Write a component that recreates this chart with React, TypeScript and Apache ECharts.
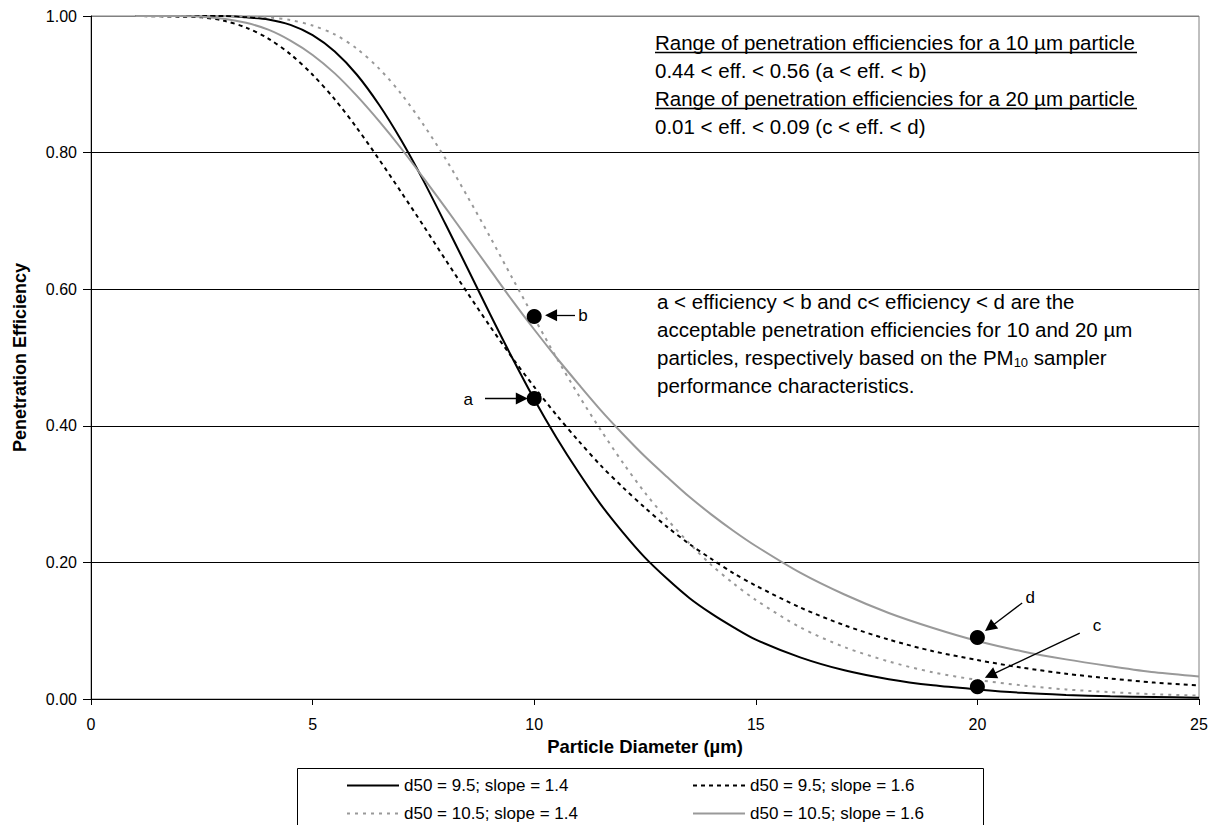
import React, { useEffect, useRef } from "react";
import * as echarts from "echarts";

// Particle diameters (µm) at which the curves were read
const diameters = [1, 2, 2.5, 3, 3.5, 4, 4.5, 5, 5.5, 6, 6.5, 7, 7.5, 8, 8.5, 9, 9.5, 10, 10.5, 11, 11.5, 12, 12.5, 13, 13.5, 14, 14.5, 15, 16, 17, 18, 19, 20, 21, 22, 23, 24, 25];

const effD95S14 = [1.0, 1.0, 1.0, 1.0, 0.998, 0.995, 0.987, 0.972, 0.948, 0.914, 0.87, 0.818, 0.759, 0.695, 0.63, 0.564, 0.5, 0.439, 0.383, 0.332, 0.285, 0.244, 0.207, 0.176, 0.148, 0.125, 0.105, 0.087, 0.061, 0.042, 0.029, 0.02, 0.014, 0.009, 0.006, 0.004, 0.003, 0.002];
const effD95S16 = [1.0, 0.999, 0.998, 0.993, 0.983, 0.967, 0.944, 0.914, 0.878, 0.836, 0.79, 0.742, 0.693, 0.643, 0.594, 0.546, 0.5, 0.457, 0.416, 0.378, 0.342, 0.31, 0.28, 0.252, 0.227, 0.205, 0.184, 0.166, 0.134, 0.108, 0.087, 0.07, 0.057, 0.046, 0.037, 0.03, 0.024, 0.02];
const effD105S14 = [1.0, 1.0, 1.0, 1.0, 0.999, 0.998, 0.994, 0.986, 0.973, 0.952, 0.923, 0.886, 0.841, 0.791, 0.735, 0.677, 0.617, 0.558, 0.5, 0.445, 0.394, 0.346, 0.302, 0.263, 0.228, 0.196, 0.169, 0.145, 0.105, 0.076, 0.055, 0.039, 0.028, 0.02, 0.014, 0.01, 0.007, 0.005];
const effD105S16 = [1.0, 1.0, 0.999, 0.996, 0.99, 0.98, 0.964, 0.943, 0.916, 0.883, 0.846, 0.806, 0.763, 0.719, 0.674, 0.629, 0.584, 0.541, 0.5, 0.461, 0.423, 0.388, 0.355, 0.325, 0.296, 0.27, 0.246, 0.224, 0.185, 0.153, 0.126, 0.104, 0.085, 0.07, 0.058, 0.048, 0.039, 0.033];

const seriesNames = [
  "d50 = 9.5; slope = 1.4",
  "d50 = 9.5; slope = 1.6",
  "d50 = 10.5; slope = 1.4",
  "d50 = 10.5; slope = 1.6",
];

// Marked points a, b, c, d
const pointLabels = ["a", "b", "c", "d"];
const pointX = [10, 10, 20, 20];
const pointY = [0.44, 0.56, 0.018, 0.09];

// Arrow annotations (data coordinates) and their letter positions
const arrowStart = [[8.89, 0.44], [10.92, 0.562], [22.31, 0.0964], [21.01, 0.1406]];
const arrowEnd = [[9.72, 0.44], [10.38, 0.562], [20.29, 0.0347], [20.28, 0.1048]];
const letterPos = [[8.51, 0.439], [11.1, 0.562], [22.7, 0.107], [21.19, 0.148]];

const xTicks = [0, 5, 10, 15, 20, 25];

const FONT = "'Liberation Sans', Arial, Helvetica, sans-serif";

function pairs(ys: number[]) {
  return diameters.map((x, i) => [x, ys[i]]);
}

export default function App() {
  const ref = useRef<HTMLDivElement>(null);

  useEffect(() => {
    if (!ref.current) return;
    const chart = echarts.init(ref.current, undefined, { renderer: "svg" });

    const lineBase = {
      type: "line" as const,
      symbol: "none",
      showSymbol: false,
      smooth: 0.3,
      z: 3,
    };

    const legendBase = {
      orient: "vertical",
      top: 777,
      padding: 0,
      itemWidth: 52,
      itemHeight: 14,
      itemGap: 11,
      itemStyle: { opacity: 0 },
      textStyle: { fontSize: 17, color: "#000", lineHeight: 16, fontFamily: FONT },
    };

    const option: any = {
      animation: false,
      backgroundColor: "#ffffff",
      textStyle: { fontFamily: FONT },
      grid: {
        left: 91,
        top: 16,
        right: 14,
        bottom: 126,
        show: true,
        borderColor: "#808080",
        borderWidth: 1,
        containLabel: false,
      },
      xAxis: {
        type: "value",
        min: xTicks[0],
        max: xTicks[xTicks.length - 1],
        interval: 5,
        name: "Particle Diameter (µm)",
        nameLocation: "middle",
        nameGap: 38,
        nameTextStyle: { fontSize: 18.5, fontWeight: "bold", color: "#000", fontFamily: FONT },
        axisLine: { show: true, lineStyle: { color: "#000", width: 1 } },
        axisTick: { show: true, inside: false, length: 6, lineStyle: { color: "#000" } },
        axisLabel: { fontSize: 16, color: "#000", margin: 17, fontFamily: FONT },
        splitLine: { show: false },
      },
      yAxis: {
        type: "value",
        min: 0,
        max: 1,
        interval: 0.2,
        name: "Penetration Efficiency",
        nameLocation: "middle",
        nameGap: 62,
        nameTextStyle: { fontSize: 18, fontWeight: "bold", color: "#000", fontFamily: FONT },
        axisLine: { show: true, lineStyle: { color: "#000", width: 1 } },
        axisTick: { show: true, inside: false, length: 8, lineStyle: { color: "#000" } },
        axisLabel: {
          fontSize: 16,
          color: "#000",
          margin: 14,
          fontFamily: FONT,
          formatter: (v: number) => v.toFixed(2),
        },
        splitLine: {
          show: true,
          lineStyle: { color: ["#000", "#000", "#000", "#000", "#000", "#808080"], width: 1 },
        },
      },
      legend: [
        { ...legendBase, data: [seriesNames[0], seriesNames[2]], left: 346 },
        { ...legendBase, data: [seriesNames[1], seriesNames[3]], left: 692 },
      ],
      series: [
        {
          ...lineBase,
          name: seriesNames[0],
          data: pairs(effD95S14),
          itemStyle: { color: "#000" },
          lineStyle: { color: "#000", width: 2, type: "solid" },
        },
        {
          ...lineBase,
          name: seriesNames[1],
          data: pairs(effD95S16),
          itemStyle: { color: "#000" },
          lineStyle: { color: "#000", width: 2, type: [4, 4] },
        },
        {
          ...lineBase,
          name: seriesNames[2],
          data: pairs(effD105S14),
          itemStyle: { color: "#999" },
          lineStyle: { color: "#999", width: 2, type: [3, 5] },
        },
        {
          ...lineBase,
          name: seriesNames[3],
          data: pairs(effD105S16),
          itemStyle: { color: "#999" },
          lineStyle: { color: "#999", width: 2, type: "solid" },
        },
        {
          type: "scatter",
          name: "points",
          symbol: "circle",
          symbolSize: 15,
          z: 6,
          itemStyle: { color: "#000", opacity: 1 },
          data: pointX.map((x, i) => [x, pointY[i]]),
          markLine: {
            silent: true,
            symbol: ["none", "triangle"],
            symbolSize: 12,
            label: { show: false },
            lineStyle: { color: "#000", width: 1.3, type: "solid", opacity: 1 },
            itemStyle: { color: "#000" },
            data: arrowStart.map((s, i) => [
              { coord: s },
              { coord: arrowEnd[i] },
            ]),
          },
        },
        {
          type: "scatter",
          name: "letters",
          symbolSize: 0,
          z: 6,
          silent: true,
          itemStyle: { opacity: 1, color: "#000" },
          data: letterPos.map((p, i) => [p[0], p[1], pointLabels[i]]),
          label: {
            show: true,
            position: "inside",
            color: "#000",
            fontSize: 17,
            fontFamily: FONT,
            formatter: (p: any) => p.value[2],
          },
        },
      ],
      graphic: [
        {
          type: "rect",
          shape: { x: 297.5, y: 768.5, width: 686, height: 80 },
          style: { fill: "none", stroke: "#000", lineWidth: 1 },
          silent: true,
        },
        ...[
          "Range of penetration efficiencies for a 10 µm particle",
          "0.44 < eff. < 0.56 (a < eff. < b)",
          "Range of penetration efficiencies for a 20 µm particle",
          "0.01 < eff. < 0.09 (c < eff. < d)",
        ].map((t, i) => ({
          type: "text",
          x: 655,
          y: 42 + i * 28,
          silent: true,
          style: {
            text: t,
            fill: "#000",
            fontSize: 20.5,
            fontFamily: FONT,
            verticalAlign: "middle",
            align: "left",
          },
        })),
        {
          type: "line",
          shape: { x1: 655, y1: 52.5, x2: 1137, y2: 52.5 },
          style: { stroke: "#000", lineWidth: 1.3 },
          silent: true,
        },
        {
          type: "line",
          shape: { x1: 655, y1: 108.5, x2: 1137, y2: 108.5 },
          style: { stroke: "#000", lineWidth: 1.3 },
          silent: true,
        },
        ...[
          "a < efficiency < b and c< efficiency < d are the",
          "acceptable penetration efficiencies for 10 and 20 µm",
          "particles, respectively based on the PM{sub|10} sampler",
          "performance characteristics.",
        ].map((t, i) => ({
          type: "text",
          x: 657,
          y: 301 + i * 28,
          silent: true,
          style: {
            text: t,
            fill: "#000",
            fontSize: 20.5,
            fontFamily: FONT,
            verticalAlign: "middle",
            align: "left",
            rich: {
              sub: {
                fontSize: 13,
                fontFamily: FONT,
                fill: "#000",
                padding: [10, 0, 0, 0],
              },
            },
          },
        })),
      ],
    };

    chart.setOption(option);
    return () => chart.dispose();
  }, []);

  return (
    <div
      ref={ref}
      style={{ position: "fixed", left: 0, top: 0, width: 1213, height: 825, background: "#fff" }}
    />
  );
}
